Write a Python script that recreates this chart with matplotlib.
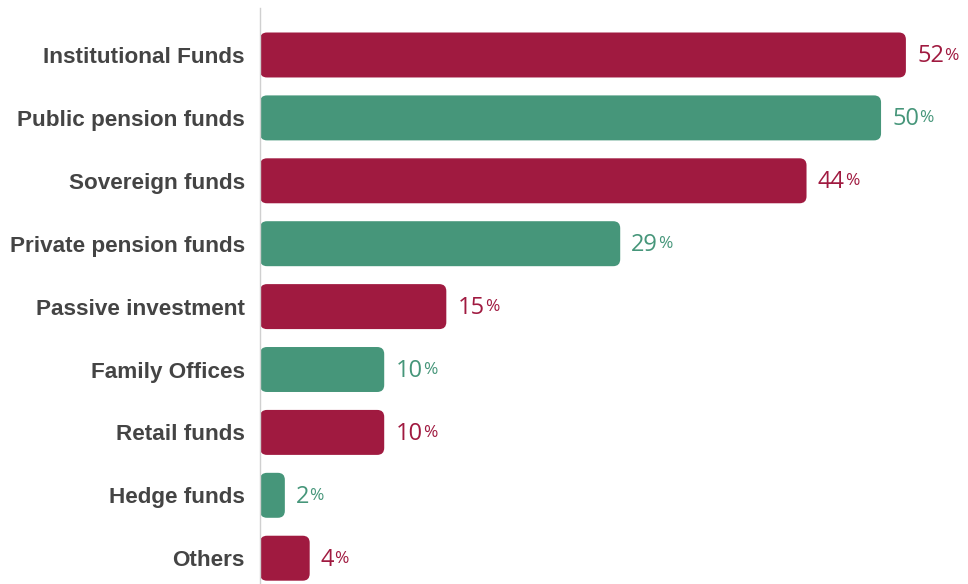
import matplotlib
matplotlib.use('Agg')
import matplotlib.pyplot as plt
from matplotlib.patches import FancyBboxPatch

plt.rcParams['font.family'] = ['Liberation Sans', 'DejaVu Sans']

# data
categories = ['Institutional Funds', 'Public pension funds', 'Sovereign funds',
              'Private pension funds', 'Passive investment', 'Family Offices',
              'Retail funds', 'Hedge funds', 'Others']
values = [52, 50, 44, 29, 15, 10, 10, 2, 4]

red = '#A01A40'
green = '#46967A'
colors = [red if i % 2 == 0 else green for i in range(len(values))]

W, H = 968, 584
fig = plt.figure(figsize=(W / 100, H / 100), dpi=100)
ax = fig.add_axes([260 / W, 0, 1 - 260 / W, (H - 8) / H])

ax.set_xlim(0, 57)
ax.set_ylim(8.41, -0.747)

# pixel scales for round corners
px_x = (W - 260) / 57
px_y = (H - 8) / (8.41 + 0.747)
aspect = px_x / px_y

bar_h = 0.715
rad = 7 / px_x
for i, (v, c) in enumerate(zip(values, colors)):
    r = min(rad, v / 2)
    p = FancyBboxPatch((0, i - bar_h / 2), v, bar_h,
                       boxstyle='round,pad=0,rounding_size=%f' % r,
                       mutation_aspect=aspect, fc=c, ec='none')
    ax.add_patch(p)
    t = ax.annotate(str(v), xy=(v, i), xytext=(8, -1), textcoords='offset points',
                    ha='left', va='center', color=c, fontsize=17,
                    family=['Open Sans', 'DejaVu Sans'])
    ax.annotate('%', xy=(1, 0.2), xycoords=t, xytext=(0.2, 0), textcoords='offset points',
                ha='left', va='bottom', color=c, fontsize=12.5,
                family=['Open Sans', 'DejaVu Sans'])

ax.set_yticks(range(len(categories)))
ax.set_yticklabels(categories, fontsize=16.2, fontweight='bold', color='#444444')
ax.tick_params(axis='y', length=0, pad=11)
ax.set_xticks([])

for s in ['top', 'right', 'bottom']:
    ax.spines[s].set_visible(False)
ax.spines['left'].set_color('#d0d0d0')
ax.spines['left'].set_linewidth(1)

fig.savefig('out.png', dpi=100)
